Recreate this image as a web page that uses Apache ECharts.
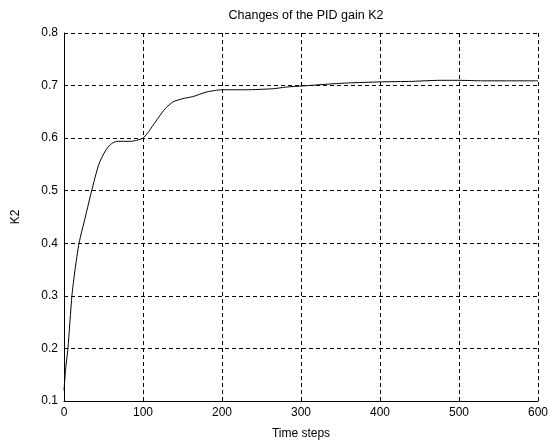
<!DOCTYPE html>
<html><head><meta charset="utf-8">
<script src="https://cdn.jsdelivr.net/npm/echarts@6/dist/echarts.min.js"></script>
<style>html,body{margin:0;padding:0;background:#fff}#c{width:557px;height:445px}</style>
</head><body><div id="c"></div>
<script>
const steps = [0,2,5,10,14,19,27,35,44,52,58,63,67,75,85,92,100,107,113,120,128,138,150,163,181,200,230,265,280,300,337,360,400,440,476,500,530,560,600];
const k2 = [0.12,0.16,0.2,0.3,0.35,0.4,0.45,0.5,0.55,0.575,0.587,0.592,0.594,0.594,0.594,0.596,0.6,0.612,0.625,0.64,0.656,0.669,0.675,0.679,0.688,0.692,0.692,0.694,0.697,0.699,0.703,0.705,0.707,0.708,0.71,0.71,0.709,0.709,0.709];
const titleText = 'Changes of the PID gain K2';
const xName = 'Time steps';
const yName = 'K2';

const chart = echarts.init(document.getElementById('c'));
const font = 'Liberation Sans, Arial, sans-serif';
chart.setOption({
  animation: false,
  backgroundColor: '#fff',
  title: { text: titleText, left: 301, top: 4, textAlign: 'center',
    textStyle: { fontFamily: font, fontSize: 12.5, fontWeight: 'normal', color: '#000' } },
  grid: { left: 64, right: 19, top: 33, bottom: 40 },
  xAxis: {
    type: 'value', min: 0, max: 600, interval: 100,
    name: xName, nameLocation: 'middle', nameGap: 27,
    nameTextStyle: { fontFamily: font, fontSize: 12, color: '#000' },
    axisLine: { show: true, lineStyle: { color: '#000', width: 1 } },
    axisTick: { show: true, inside: true, length: 4, lineStyle: { color: '#000' } },
    axisLabel: { fontFamily: font, fontSize: 12, color: '#000', margin: 6 },
    splitLine: { show: true, lineStyle: { color: '#000', type: [4, 3], width: 1 } }
  },
  yAxis: {
    type: 'value', min: 0.1, max: 0.8, interval: 0.1,
    name: yName, nameLocation: 'middle', nameGap: 42, nameRotate: 90,
    nameTextStyle: { fontFamily: font, fontSize: 12, color: '#000' },
    axisLine: { show: true, lineStyle: { color: '#000', width: 1 } },
    axisTick: { show: true, inside: true, length: 4, lineStyle: { color: '#000' } },
    axisLabel: { fontFamily: font, fontSize: 12, color: '#000', margin: 6,
      formatter: v => v.toFixed(1) },
    splitLine: { show: true, lineStyle: { color: '#000', type: [4, 3], width: 1 } }
  },
  series: [{
    type: 'line', data: steps.map((s, i) => [s, k2[i]]),
    showSymbol: false, smooth: 0.2,
    lineStyle: { color: '#000', width: 1 }
  }]
});
</script></body></html>
